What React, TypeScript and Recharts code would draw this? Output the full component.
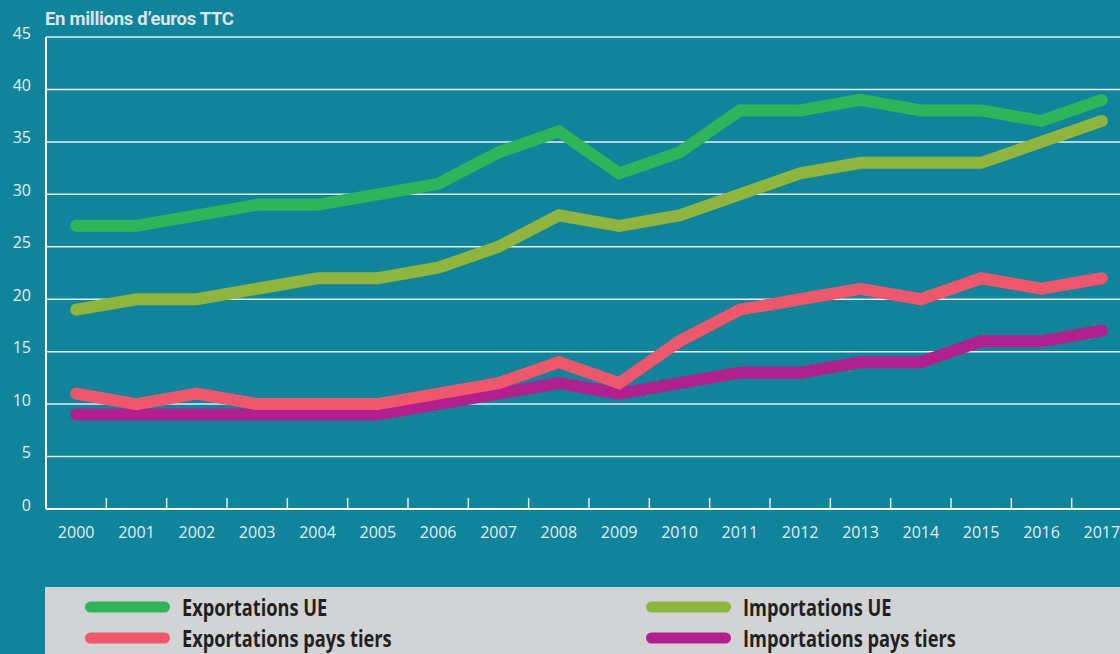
import { LineChart, Line, XAxis, YAxis, CartesianGrid } from "recharts"

// années et séries (millions d'euros TTC)
const years = [
  "2000", "2001", "2002", "2003", "2004", "2005", "2006", "2007", "2008",
  "2009", "2010", "2011", "2012", "2013", "2014", "2015", "2016", "2017",
]
const exportsUE = [27, 27, 28, 29, 29, 30, 31, 34, 36, 32, 34, 38, 38, 39, 38, 38, 37, 39]
const importsUE = [19, 20, 20, 21, 22, 22, 23, 25, 28, 27, 28, 30, 32, 33, 33, 33, 35, 37]
const exportsTiers = [11, 10, 11, 10, 10, 10, 11, 12, 14, 12, 16, 19, 20, 21, 20, 22, 21, 22]
const importsTiers = [9, 9, 9, 9, 9, 9, 10, 11, 12, 11, 12, 13, 13, 14, 14, 16, 16, 17]
const yTicks = [0, 5, 10, 15, 20, 25, 30, 35, 40, 45]

const series = [
  { key: "importsTiers", label: "Importations pays tiers", color: "#b21f8e" },
  { key: "exportsTiers", label: "Exportations pays tiers", color: "#f0566c" },
  { key: "importsUE", label: "Importations UE", color: "#8fb53d" },
  { key: "exportsUE", label: "Exportations UE", color: "#2fb45a" },
]
// ordre de la légende : colonne gauche / droite
const legendOrder = [
  ["exportsUE", "importsUE"],
  ["exportsTiers", "importsTiers"],
]

const data = years.map((year, i) => ({
  year,
  exportsUE: exportsUE[i],
  importsUE: importsUE[i],
  exportsTiers: exportsTiers[i],
  importsTiers: importsTiers[i],
}))

const CHART_W = 1140
const CHART_H = 580
const Y_AXIS_W = 46
const MARGIN = { top: 37, right: 8, left: 0, bottom: 31 }
// largeur d'une "case" année
const band = (CHART_W - MARGIN.left - MARGIN.right - Y_AXIS_W) / years.length

const BG = "#10849a"
const LIGHT = "#e4eef1"

function YearTick(props: any) {
  const { x, y, payload, index } = props
  return (
    <g>
      {index < years.length - 1 && (
        <line x1={x + band / 2} x2={x + band / 2} y1={y} y2={y - 11} stroke={LIGHT} strokeWidth={1.5} />
      )}
      <text x={x} y={y + 28.5} textAnchor="middle" fill={LIGHT} fontSize={16} fontFamily="'Open Sans', sans-serif">
        {payload.value}
      </text>
    </g>
  )
}

function ValueTick(props: any) {
  const { x, y, payload } = props
  return (
    <text x={x} y={y + 1.5} textAnchor="end" fill={LIGHT} fontSize={16} fontFamily="'Open Sans', sans-serif">
      {payload.value}
    </text>
  )
}

function LegendBox() {
  const byKey = Object.fromEntries(series.map((s) => [s.key, s]))
  const colX = [0, 561]
  const rowY = [20, 51]
  return (
    <div style={{ position: "absolute", left: 45, top: 587, width: 1075, height: 67, background: "#d1d3d4" }}>
      <svg width={1075} height={67} style={{ display: "block" }}>
        {legendOrder.map((row, r) =>
          row.map((k, c) => {
            const s = byKey[k]
            const x0 = colX[c]
            return (
              <g key={k}>
                <line x1={x0 + 45.5} x2={x0 + 119.5} y1={rowY[r]} y2={rowY[r]} stroke={s.color} strokeWidth={11} strokeLinecap="round" />
                <text
                  transform={`translate(${x0 + 137},${rowY[r] + 9}) scale(0.76,1)`}
                  fill="#231f20"
                  fontSize={24}
                  fontWeight={700}
                  fontFamily="'Open Sans', sans-serif"
                >
                  {s.label}
                </text>
              </g>
            )
          })
        )}
      </svg>
    </div>
  )
}

export default function App() {
  return (
    <div
      style={{
        position: "absolute",
        left: 0,
        top: 0,
        width: 1120,
        height: 654,
        overflow: "hidden",
        background: BG,
      }}
    >
      <div
        style={{
          position: "absolute",
          left: 45,
          top: 8,
          color: "#dbe4e8",
          fontFamily: "Roboto, sans-serif",
          fontWeight: 700,
          fontSize: 18.5,
          letterSpacing: -0.3,
          lineHeight: "22px",
        }}
      >
        En millions d’euros TTC
      </div>
      <LineChart width={CHART_W} height={CHART_H} data={data} margin={MARGIN}>
        <CartesianGrid vertical={false} stroke={LIGHT} strokeWidth={1.5} />
        <XAxis
          dataKey="year"
          tick={<YearTick />}
          tickLine={false}
          tickSize={0}
          tickMargin={0}
          axisLine={{ stroke: "#ffffff", strokeWidth: 2 }}
          height={40}
          interval={0}
          padding={{ left: band / 2, right: band / 2 }}
        />
        <YAxis
          domain={[0, 45]}
          ticks={yTicks}
          tick={<ValueTick />}
          tickLine={false}
          tickSize={0}
          tickMargin={15}
          axisLine={{ stroke: "#ffffff", strokeWidth: 2 }}
          width={Y_AXIS_W}
          interval={0}
        />
        {series.map((s) => (
          <Line
            key={s.key}
            dataKey={s.key}
            stroke={s.color}
            strokeWidth={12}
            strokeLinecap="round"
            strokeLinejoin="miter"
            dot={false}
            activeDot={false}
            type="linear"
            isAnimationActive={false}
          />
        ))}
      </LineChart>
      <LegendBox />
    </div>
  )
}
